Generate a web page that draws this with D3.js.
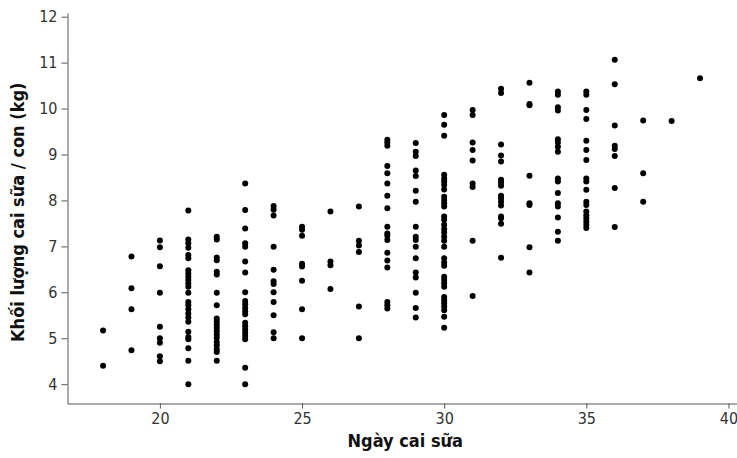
<!DOCTYPE html>
<html>
<head>
<meta charset="utf-8">
<script src="https://cdn.jsdelivr.net/npm/d3@7"></script>
<style>
  body { margin: 0; background: #fff; }
  .tick text { font-family: "DejaVu Sans Condensed", "DejaVu Sans", sans-serif; font-size: 16px; fill: #333; }
  .axis path, .axis line { stroke: #555; }
  .title { font-family: "DejaVu Sans Condensed", "DejaVu Sans", sans-serif; font-weight: bold; font-size: 18px; fill: #111; }
</style>
</head>
<body>
<svg id="chart"></svg>
<script>
// weaning day (x) and the weaning weights per piglet observed on that day (y)
var days = [18, 19, 20, 21, 22, 23, 24, 25, 26, 27, 28, 29, 30, 31, 32, 33, 34, 35, 36, 37, 38, 39];
var weights = [
  [5.17, 4.40],
  [6.78, 6.09, 5.63, 4.74],
  [7.13, 6.98, 6.57, 5.99, 5.25, 5.00, 4.90, 4.61, 4.50],
  [7.78, 7.15, 7.07, 6.97, 6.81, 6.74, 6.48, 6.41, 6.34, 6.27, 6.19, 6.12, 5.99, 5.79, 5.72, 5.63, 5.54, 5.45, 5.36, 5.14, 5.03, 4.98, 4.78, 4.51, 4.00],
  [7.21, 7.15, 6.76, 6.70, 6.45, 6.39, 5.99, 5.72, 5.43, 5.37, 5.30, 5.23, 5.16, 5.08, 5.01, 4.92, 4.85, 4.76, 4.70, 4.51],
  [8.37, 7.79, 7.39, 7.07, 6.99, 6.67, 6.43, 6.00, 5.81, 5.74, 5.66, 5.59, 5.52, 5.34, 5.26, 5.19, 5.12, 5.05, 4.98, 4.36, 4.00],
  [7.88, 7.80, 7.67, 6.99, 6.49, 6.24, 6.18, 6.00, 5.79, 5.50, 5.13, 5.00],
  [7.43, 7.36, 7.23, 6.62, 6.56, 6.25, 5.63, 5.00],
  [7.76, 6.67, 6.59, 6.07],
  [7.87, 7.12, 7.02, 6.88, 5.69, 5.00],
  [9.32, 9.26, 9.19, 8.75, 8.59, 8.37, 8.10, 7.83, 7.43, 7.28, 7.23, 7.14, 6.86, 6.69, 6.54, 5.79, 5.72, 5.65],
  [9.25, 9.06, 8.97, 8.65, 8.53, 8.21, 7.97, 7.43, 7.21, 7.14, 6.99, 6.74, 6.43, 6.32, 5.99, 5.66, 5.45],
  [9.86, 9.65, 9.41, 8.56, 8.48, 8.41, 8.34, 8.24, 8.08, 8.01, 7.94, 7.87, 7.65, 7.58, 7.47, 7.38, 7.30, 7.21, 7.12, 6.99, 6.74, 6.65, 6.58, 6.34, 6.27, 6.20, 6.12, 5.90, 5.83, 5.76, 5.69, 5.61, 5.47, 5.23],
  [9.97, 9.86, 9.26, 9.10, 8.87, 8.37, 8.29, 7.12, 5.92],
  [10.43, 10.34, 9.22, 8.98, 8.85, 8.45, 8.39, 8.32, 8.10, 8.05, 7.97, 7.89, 7.65, 7.61, 7.49, 6.75],
  [10.56, 10.10, 10.07, 8.54, 7.94, 7.90, 6.98, 6.43],
  [10.37, 10.30, 10.03, 9.96, 9.33, 9.26, 9.17, 9.06, 8.48, 8.41, 8.16, 7.94, 7.87, 7.63, 7.32, 7.12],
  [10.37, 10.30, 9.97, 9.77, 9.30, 9.10, 8.88, 8.48, 8.41, 8.23, 7.97, 7.90, 7.76, 7.68, 7.61, 7.54, 7.47, 7.40],
  [11.06, 10.53, 9.63, 9.19, 9.12, 8.97, 8.27, 7.42],
  [9.74, 8.59, 7.97],
  [9.73],
  [10.66]
];
var xTicks = [20, 25, 30, 35, 40];
var yTicks = [4, 5, 6, 7, 8, 9, 10, 11, 12];
var xLabel = "Ngày cai sữa";
var yLabel = "Khối lượng cai sữa / con (kg)";

const width = 737
const height = 458
const margin = ({top: 13, right: 0, bottom: 54.5, left: 67.5})

// flatten into points
var points = [];
days.forEach((d, i) => weights[i].forEach(w => points.push({day: d, weight: w})));

var x = d3.scaleLinear()
  .domain([16.75, 40.3])
  .range([margin.left, width - margin.right]);

var y = d3.scaleLinear()
  .domain([3.58, 12.08])
  .range([height - margin.bottom, margin.top]);

const svg = d3.select('#chart').attr('width', width).attr('height', height);

svg.append('g')
  .attr('class', 'axis')
  .attr('transform', `translate(0, ${height - margin.bottom})`)
  .call(d3.axisBottom(x).tickValues(xTicks).tickSize(5).tickSizeOuter(0).tickPadding(4));

svg.append('g')
  .attr('class', 'axis')
  .attr('transform', `translate(${margin.left}, 0)`)
  .call(d3.axisLeft(y).tickValues(yTicks).tickSize(6).tickSizeOuter(0).tickPadding(4));

svg.append('g')
  .selectAll('circle')
  .data(points)
  .enter().append('circle')
    .attr('cx', d => x(d.day))
    .attr('cy', d => y(d.weight))
    .attr('r', 3)
    .attr('fill', '#000');

svg.append('text')
  .attr('class', 'title')
  .attr('x', (margin.left + width - margin.right) / 2 + 3)
  .attr('y', height - 11)
  .attr('text-anchor', 'middle')
  .text(xLabel);

svg.append('text')
  .attr('class', 'title')
  .attr('transform', `translate(24, ${(margin.top + height - margin.bottom) / 2 + 4}) rotate(-90)`)
  .attr('text-anchor', 'middle')
  .text(yLabel);
</script>
</body>
</html>
